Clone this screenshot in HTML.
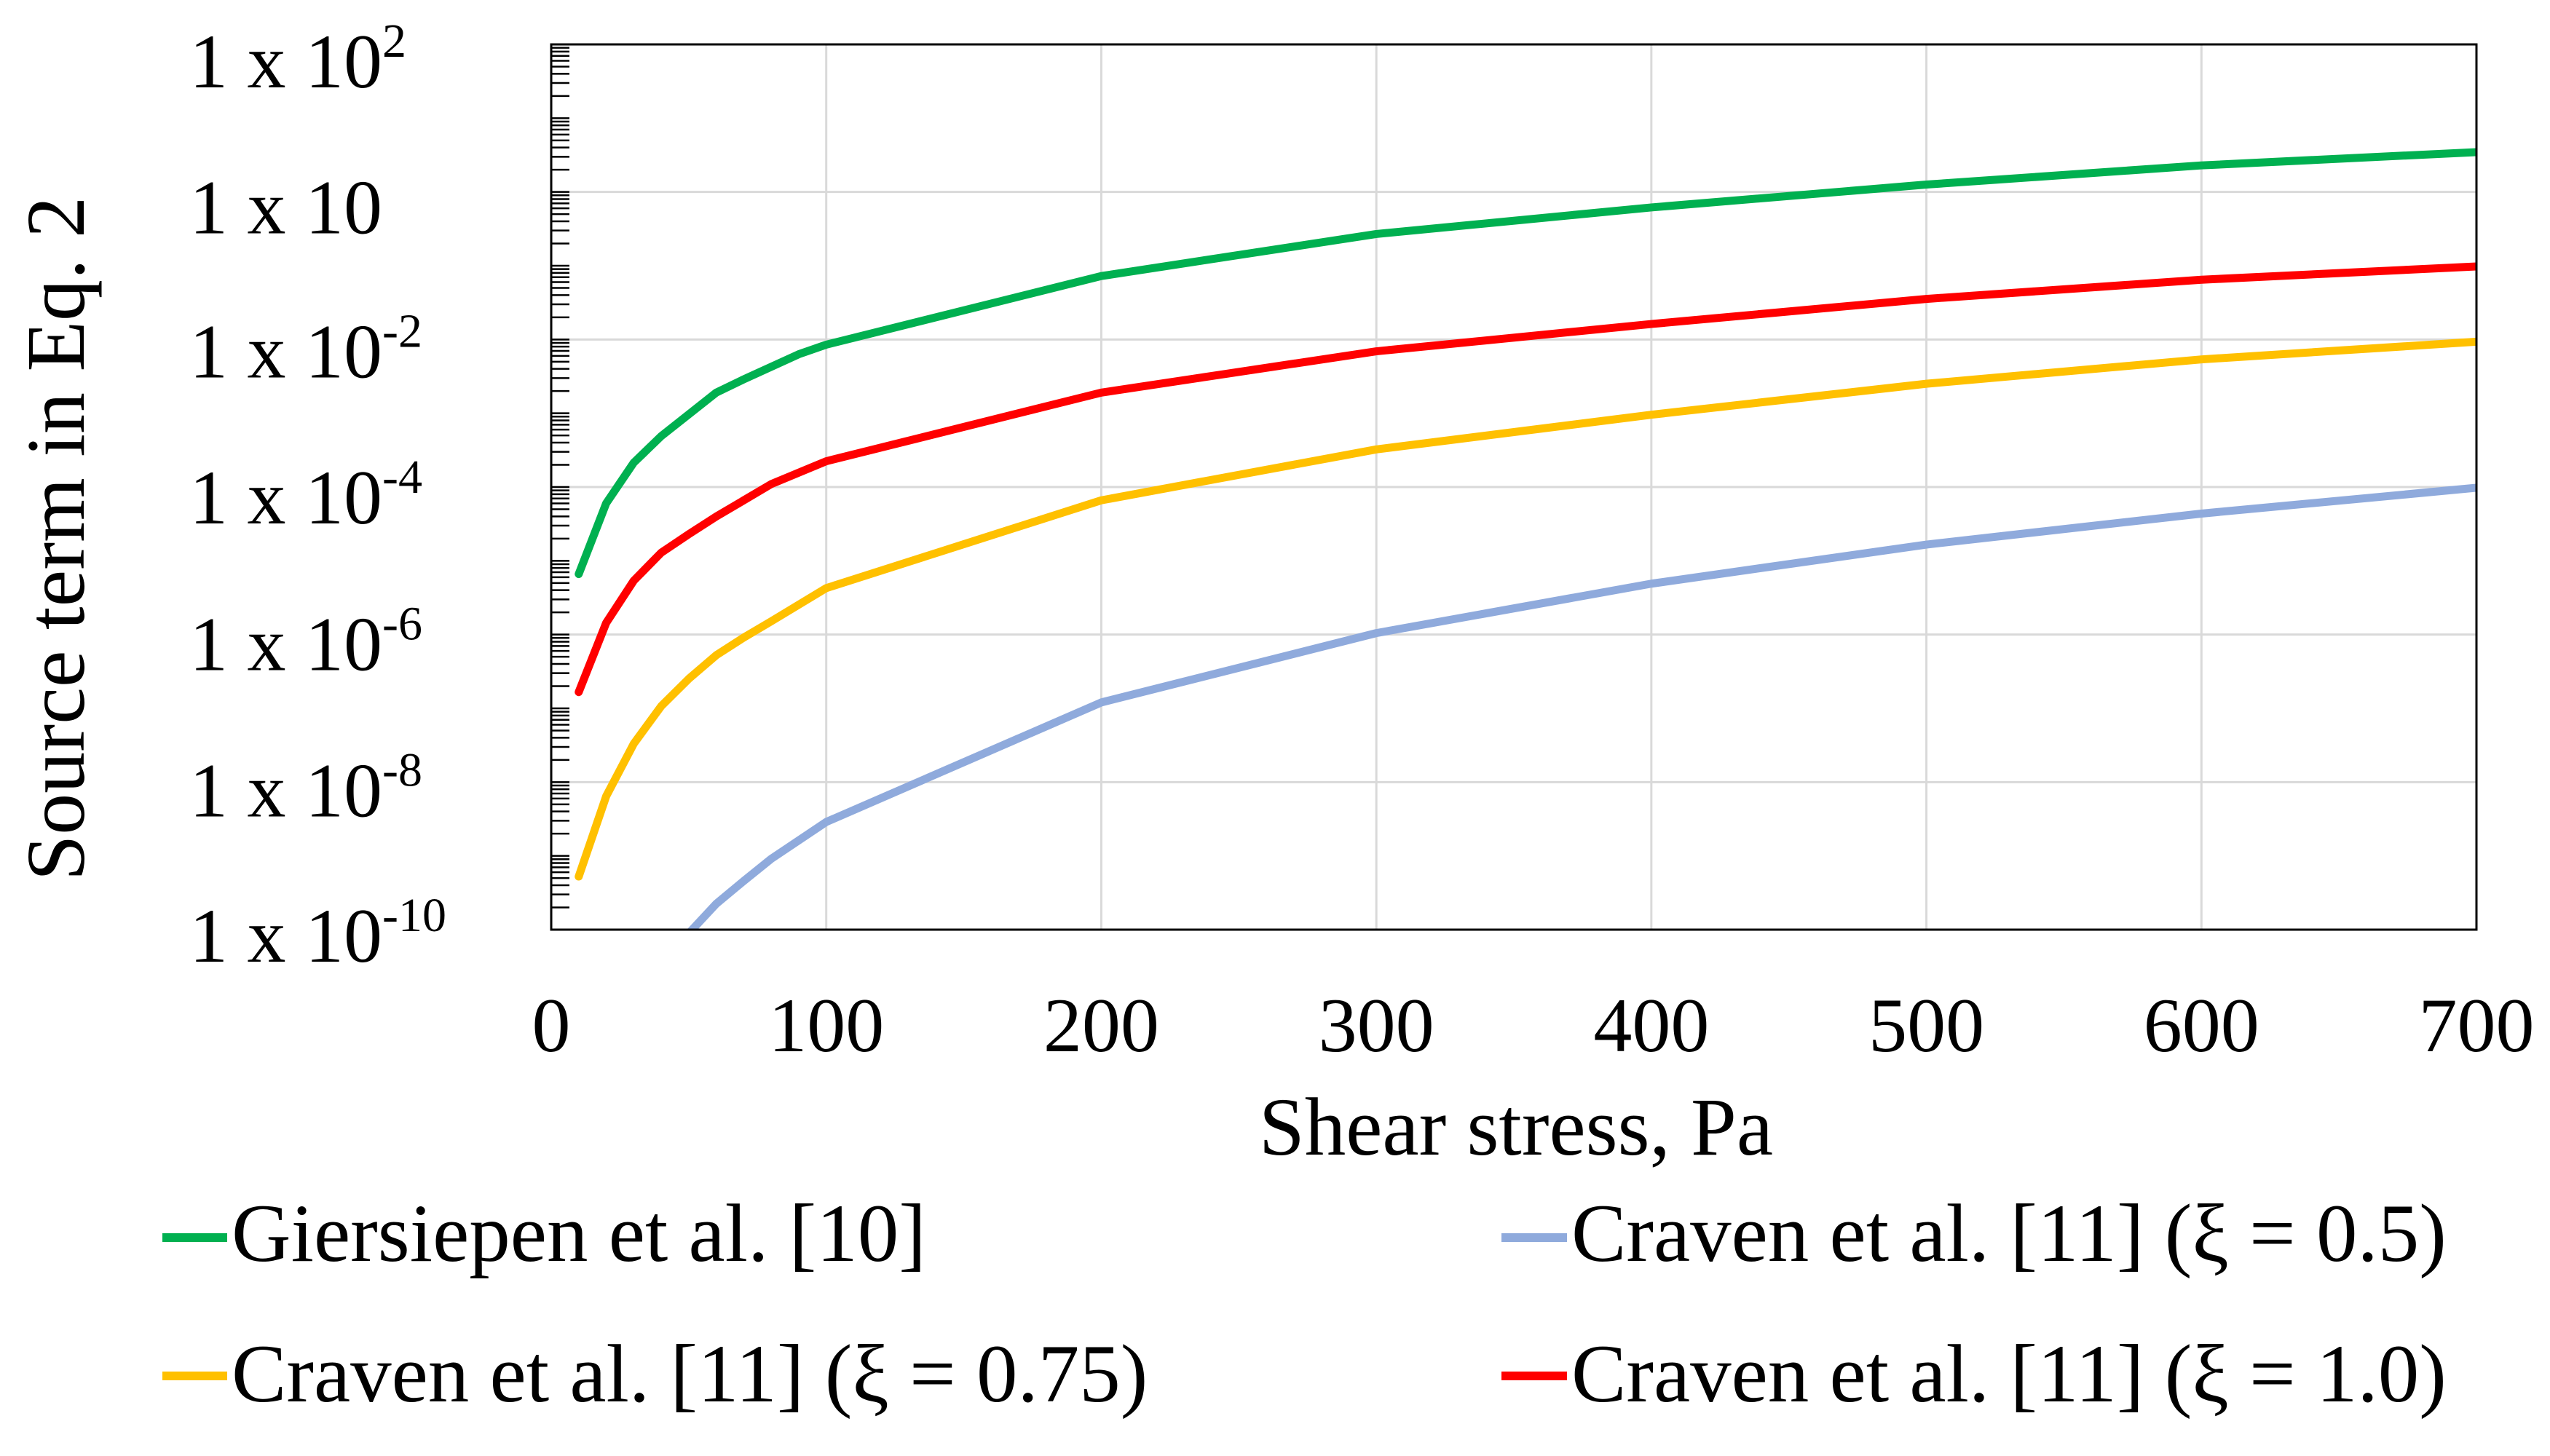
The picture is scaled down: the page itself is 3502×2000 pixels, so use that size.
<!DOCTYPE html>
<html><head><meta charset="utf-8"><style>
html,body{margin:0;padding:0;background:#fff;}
svg{display:block;font-family:"Liberation Serif",serif;}
</style></head><body>
<svg id="chart" xmlns="http://www.w3.org/2000/svg" width="3502" height="2000" viewBox="0 0 3502 2000">
<rect width="3502" height="2000" fill="#fff"/>
<g id="grid"></g>
<g id="ticks"></g>
<clipPath id="clip"><rect x="757" y="61" width="2644" height="1216"/></clipPath>
<g id="series" clip-path="url(#clip)"></g>
<rect x="757" y="61" width="2644" height="1216" fill="none" stroke="#000" stroke-width="3"/>
<g id="ylabels" font-size="106"></g>
<g id="xlabels" font-size="106"></g>
<text x="2082" y="1586" text-anchor="middle" font-size="113">Shear stress, Pa</text>
<text transform="translate(115,740) rotate(-90)" text-anchor="middle" font-size="114">Source term in Eq. 2</text>
<g font-size="113">
<g><line x1="223" y1="1700" x2="312" y2="1700" stroke="#00b050" stroke-width="12"/><text x="318" y="1732">Giersiepen et al. [10]</text></g>
<g><line x1="2062" y1="1700" x2="2152" y2="1700" stroke="#8faadc" stroke-width="12"/><text x="2158" y="1732">Craven et al. [11] (ξ = 0.5)</text></g>
<g><line x1="223" y1="1890" x2="312" y2="1890" stroke="#ffc000" stroke-width="12"/><text x="318" y="1925">Craven et al. [11] (ξ = 0.75)</text></g>
<g><line x1="2062" y1="1890" x2="2152" y2="1890" stroke="#ff0000" stroke-width="12"/><text x="2158" y="1925">Craven et al. [11] (ξ = 1.0)</text></g>
</g>
</svg>
<script>
const xTicks = [0,100,200,300,400,500,600,700];
const yTickExps = [2,0,-2,-4,-6,-8,-10];
const yTickSups = ["2","","-2","-4","-6","-8","-10"];
const greenX = [10,20,30,40,60,70,90,100,200,300,400,500,600,700];
const greenLog = [-5.18,-4.22,-3.67,-3.31,-2.72,-2.54,-2.2,-2.07,-1.14,-0.57,-0.21,0.1,0.36,0.54];
const redX = [10,20,30,40,50,60,80,100,200,300,400,500,600,700];
const redLog = [-6.78,-5.84,-5.27,-4.89,-4.64,-4.4,-3.96,-3.65,-2.72,-2.16,-1.79,-1.45,-1.19,-1.01];
const yellowX = [10,20,30,40,50,60,70,80,100,200,300,400,500,600,700];
const yellowLog = [-9.28,-8.19,-7.48,-6.97,-6.6,-6.28,-6.04,-5.82,-5.37,-4.18,-3.49,-3.02,-2.6,-2.27,-2.03];
const blueX = [50,60,70,80,100,200,300,400,500,600,700];
const blueLog = [-10.05,-9.65,-9.34,-9.04,-8.54,-6.92,-5.98,-5.31,-4.78,-4.36,-4.01];

const NS="http://www.w3.org/2000/svg";
const L=757,R=3401,T=61,B=1277;
const xs=v=>L+(v-0)/700*(R-L);
const ys=lg=>T+(2-lg)/12*(B-T);
function mk(tag,attrs,parent){const e=document.createElementNS(NS,tag);for(const k in attrs)e.setAttribute(k,attrs[k]);parent.appendChild(e);return e;}
const grid=document.getElementById('grid');
xTicks.forEach(v=>{if(v>0&&v<700){const l=mk('line',{x1:xs(v),x2:xs(v),y1:T,y2:B,stroke:'#d9d9d9','stroke-width':3},grid);

}});
yTickExps.forEach(e=>{if(e<2&&e>-10){const l=mk('line',{x1:L,x2:R,y1:ys(e),y2:ys(e),stroke:'#d9d9d9','stroke-width':3},grid);

}});
const ticks=document.getElementById('ticks');
for(let d=-10;d<2;d++){for(let m=1;m<=10;m++){const lg=d+Math.log10(m);if(m===10&&d!==1)continue;
const t=mk('line',{x1:L,x2:L+25,y1:ys(lg),y2:ys(lg),stroke:'#000','stroke-width':2.5},ticks);

}}
const yl=document.getElementById('ylabels');
const baseOff=[59,57,52,50,49,47,44];
yTickExps.forEach((e,i)=>{const t=mk('text',{x:260,y:ys(e)+baseOff[i]},yl);


t.textContent='1 x 10';
if(yTickSups[i]){const s=mk('tspan',{'font-size':66,dy:-42},t);s.textContent=yTickSups[i];}});
const xl=document.getElementById('xlabels');
xTicks.forEach(v=>{const t=mk('text',{x:xs(v),y:1444,'text-anchor':'middle'},xl);


t.textContent=v;});
const ser=document.getElementById('series');
function draw(X,Y,color,name){const p=mk('polyline',{points:X.map((x,i)=>xs(x)+','+ys(Y[i])).join(' '),fill:'none',stroke:color,'stroke-width':11,'stroke-linejoin':'round','stroke-linecap':'round'},ser);

}
draw(blueX,blueLog,'#8faadc','series-craven-0.5');
draw(yellowX,yellowLog,'#ffc000','series-craven-0.75');
draw(redX,redLog,'#ff0000','series-craven-1.0');
draw(greenX,greenLog,'#00b050','series-giersiepen');
</script>
</body></html>
